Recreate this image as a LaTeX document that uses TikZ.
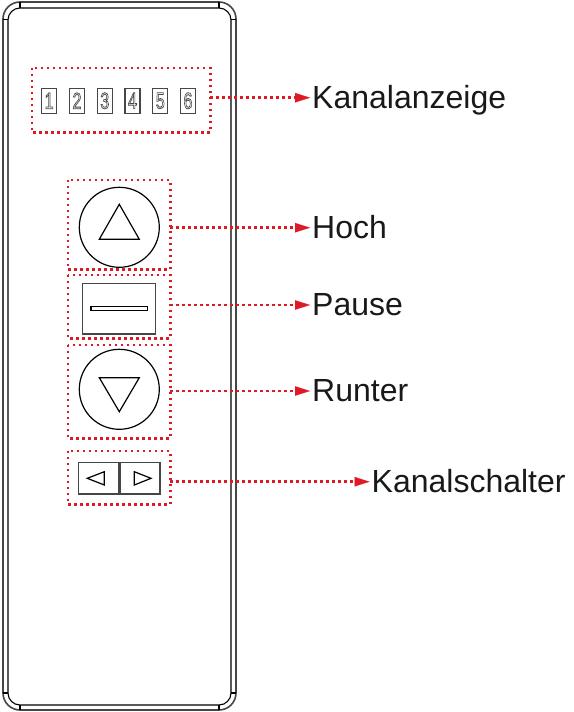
\documentclass[tikz,border=0pt]{standalone}
\usepackage{fontspec}
\setmainfont{Liberation Sans}
\usetikzlibrary{arrows.meta,calc}
\definecolor{dotred}{RGB}{222,26,38}
\definecolor{txt}{RGB}{25,25,25}
\definecolor{edge}{RGB}{70,70,70}
\newcommand{\outdigit}[1]{\special{pdf:code q 1 Tr 0.8 w}\scalebox{0.7}[1]{#1}\special{pdf:code Q}}
\begin{document}
\begin{tikzpicture}[x=1pt,y=-1pt,
  area/.style={inner sep=0pt},
  reddots/.style={draw=dotred, line width=2.6pt, dash pattern=on 2.4pt off 3.6pt, line cap=butt},
  conn/.style={reddots,
    -{Triangle[length=15pt,width=9.5pt,fill=dotred,line width=0.1pt]}},
  lab/.style={anchor=west, inner xsep=2pt, inner ysep=0pt, text height=21pt, text depth=0pt,
    font=\fontsize{32}{32}\selectfont, text=txt},
  digbox/.style={draw=edge, line width=1.2pt, minimum width=15pt, minimum height=25pt, inner sep=0pt,
    font=\fontsize{23}{23}\selectfont, text=edge},
  btn/.style={draw=black, line width=1.2pt, circle, minimum size=80pt, inner sep=0pt},
  keybox/.style={draw=edge, line width=1.5pt, inner sep=0pt},
  outerline/.style={draw=edge, line width=1.6pt},
  innerline/.style={draw=black, line width=1.1pt}
]
\useasboundingbox (0,0) rectangle (573,712);

% body
\draw[outerline, rounded corners=17pt] (3,2) rectangle (236,710);
\draw[innerline, rounded corners=12pt] (8,8) rectangle (231,705);
\draw[innerline] (20,2) -- (20,8) (219,2) -- (219,8) (20,705) -- (20,710) (219,705) -- (219,710)
  (3,19.5) -- (8,19.5) (231,19.5) -- (236,19.5) (3,693) -- (8,693) (231,693) -- (236,693);

% channel display
\foreach \i [count=\k] in {49.2,77,104.8,132.5,160.3,188}{
  \node[digbox] (d\k) at (\i,100.8) {\outdigit{\k}};
}
\node[area, minimum width=178pt, minimum height=64pt] (kbox) at (121,100) {};

% up button
\node[btn] (up) at (119.3,227.3) {};
\draw[line width=1.2pt, line join=miter] ($(up.center)+(0,-23)$) -- ($(up.center)+(20,12)$) -- ($(up.center)+(-20,12)$) -- cycle;
\node[area, minimum width=102pt, minimum height=89pt] (hbox) at (119,224.5) {};

% pause
\node[keybox, minimum width=73pt, minimum height=50.7pt] (pkey) at (119.2,308.7) {};
\node[draw=black, line width=1.1pt, minimum width=56.7pt, minimum height=3.7pt, inner sep=0pt] (pbar) at (119.3,308.2) {};
\node[area, minimum width=102pt, minimum height=63pt] (pbox) at (119,306.5) {};

% down button
\node[btn] (down) at (119.3,389.3) {};
\draw[line width=1.2pt, line join=miter] ($(down.center)+(0,22.4)$) -- ($(down.center)+(20,-11.6)$) -- ($(down.center)+(-20,-11.6)$) -- cycle;
\node[area, minimum width=102pt, minimum height=93pt] (rbox) at (119,391.5) {};

% channel switch
\node[keybox, minimum width=40.4pt, minimum height=31.3pt] (lkey) at (98.5,478.3) {};
\node[keybox, minimum width=40pt, minimum height=31.3pt] (rkey) at (140,478.3) {};
\draw[line width=1.2pt, line join=miter] (87.3,478.3) -- (104.3,471.7) -- (104.3,485) -- cycle;
\draw[line width=1.2pt, line join=miter] (151,478.3) -- (134.3,471.7) -- (134.3,485) -- cycle;
\node[area, minimum width=102pt, minimum height=53pt] (sbox) at (119,477.5) {};

% dotted frames
\foreach \b in {kbox,hbox,pbox,rbox,sbox}{
  \draw[reddots] (\b.north west) rectangle (\b.south east);
}

% labels
\node[lab] (lk) at (310,97.7) {Kanalanzeige};
\node[lab] (lh) at (310,227.7) {Hoch};
\node[lab] (lp) at (310,305) {Pause};
\node[lab] (lr) at (310,391) {Runter};
\node[lab] (ls) at (369.5,481.7) {Kanalschalter};

\draw[conn] (kbox.east |- lk.west) -- (lk.west);
\draw[conn] (hbox.east |- lh.west) -- (lh.west);
\draw[conn] (pbox.east |- lp.west) -- (lp.west);
\draw[conn] (rbox.east |- lr.west) -- (lr.west);
\draw[conn] (sbox.east |- ls.west) -- (ls.west);
\end{tikzpicture}
\end{document}
